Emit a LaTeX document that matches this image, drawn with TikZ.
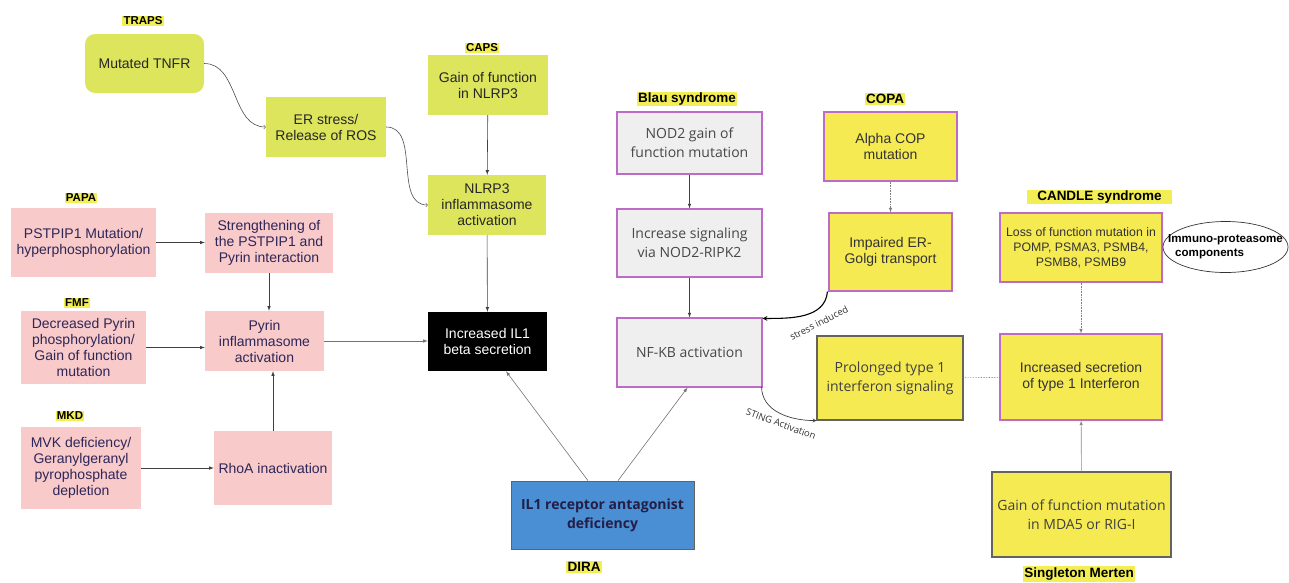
\documentclass[tikz,border=0pt]{standalone}
\usepackage{fontspec}
\setmainfont{Liberation Sans}
\newfontfamily\opensans{Open Sans}
\usetikzlibrary{shapes,arrows,positioning,calc}
\definecolor{limeyellow}{RGB}{221,229,92}
\definecolor{pinkbox}{RGB}{248,202,202}
\definecolor{greybox}{RGB}{239,239,239}
\definecolor{purpleedge}{RGB}{188,108,198}
\definecolor{brightyellow}{RGB}{246,234,82}
\definecolor{tagyellow}{RGB}{243,238,84}
\definecolor{dirablue}{RGB}{74,142,212}
\definecolor{navytext}{RGB}{45,38,88}
\definecolor{edgegrey}{RGB}{100,100,92}

\begin{document}
\begin{tikzpicture}[x=1pt, y=-1pt,
    box/.style={rectangle, align=center, inner sep=2pt, font=\fontsize{14}{16}\selectfont},
    limebox/.style={box, fill=limeyellow, text=black!85},
    pinkrect/.style={box, fill=pinkbox, text=navytext},
    greyrect/.style={box, fill=greybox, draw=purpleedge, line width=1.1pt, text=black!72,
      font=\opensans\fontsize{14}{19}\selectfont},
    yellowrect/.style={box, fill=brightyellow, draw=purpleedge, line width=1.1pt, text=black!80},
    yellowgrey/.style={box, fill=brightyellow, draw=edgegrey, line width=1.1pt, text=black!75,
      font=\opensans\fontsize{14}{19}\selectfont},
    tag/.style={fill=tagyellow, inner sep=1.2pt, font=\bfseries\fontsize{11.5}{12}\selectfont},
    bigtag/.style={tag, font=\bfseries\fontsize{13.5}{14}\selectfont},
    flow/.style={-latex, draw=black!75, line width=0.6pt},
    faint/.style={draw=black!50, line width=0.6pt, densely dotted},
    curved/.style={->, draw=black!70, line width=0.6pt},
    edgelabel/.style={font=\opensans\fontsize{9.5}{10}\selectfont, text=black!80, inner sep=0pt}]

  \useasboundingbox (0,0) rectangle (1289,582);

  % TRAPS and CAPS (NLRP3 branch)
  \node[tag] (trapstag) at (143,21) {TRAPS};
  \node[limebox, rounded corners=10pt, minimum width=119pt, minimum height=59pt] (tnfr) at (144.5,63.5) {Mutated TNFR};
  \node[limebox, minimum width=120pt, minimum height=60pt] (ros) at (326,127) {ER stress/\\Release of ROS};
  \node[tag] (capstag) at (482,48) {CAPS};
  \node[limebox, minimum width=120pt, minimum height=60pt] (nlrpgain) at (488,85) {Gain of function\\in NLRP3};
  \node[limebox, minimum width=118pt, minimum height=60pt] (nlrpact) at (487,205) {NLRP3\\inflammasome\\activation};
  \node[box, fill=black, text=white, minimum width=119pt, minimum height=59pt] (il1) at (487.5,341.5) {Increased IL1\\beta secretion};

  % PAPA, FMF, MKD (pyrin branch)
  \node[tag] (papatag) at (81,198) {PAPA};
  \node[pinkrect, minimum width=145pt, minimum height=69pt] (pstpip) at (83.5,242.5) {PSTPIP1 Mutation/\\hyperphosphorylation};
  \node[pinkrect, minimum width=128pt, minimum height=60pt] (strength) at (269,243) {Strengthening of\\the PSTPIP1 and\\Pyrin interaction};
  \node[tag] (fmftag) at (77,303) {FMF};
  \node[pinkrect, minimum width=125pt, minimum height=73pt] (pyrinphos) at (83.5,347.5) {Decreased Pyrin\\phosphorylation/\\Gain of function\\mutation};
  \node[pinkrect, minimum width=119pt, minimum height=60pt] (pyrinact) at (264.5,341) {Pyrin\\inflammasome\\activation};
  \node[tag] (mkdtag) at (70,416) {MKD};
  \node[pinkrect, minimum width=120pt, minimum height=82pt] (mvk) at (81,468) {MVK deficiency/\\Geranylgeranyl\\pyrophosphate\\depletion};
  \node[pinkrect, minimum width=118pt, minimum height=74pt] (rhoa) at (273,468) {RhoA inactivation};

  % DIRA
  \node[box, fill=dirablue, draw=edgegrey, line width=0.8pt, text=navytext!80!black,
    font=\opensans\bfseries\fontsize{14}{19}\selectfont, minimum width=183pt, minimum height=68pt] (dira) at (602.5,515)
    {IL1 receptor antagonist\\deficiency};
  \node[bigtag] (diratag) at (584,567) {DIRA};

  % Blau syndrome
  \node[bigtag] (blautag) at (687,99) {Blau syndrome};
  \node[greyrect, minimum width=145pt, minimum height=62pt] (nod2) at (689.5,143) {NOD2 gain of\\function mutation};
  \node[greyrect, minimum width=145pt, minimum height=68pt] (ripk) at (689.5,243) {Increase signaling\\via NOD2-RIPK2};
  \node[greyrect, minimum width=145pt, minimum height=69pt] (nfkb) at (689.5,352.5) {NF-KB activation};

  % COPA
  \node[bigtag] (copatag) at (885,99) {COPA};
  \node[yellowrect, minimum width=133pt, minimum height=69pt] (alphacop) at (890.5,146.5) {Alpha COP\\mutation};
  \node[yellowrect, minimum width=123pt, minimum height=78pt] (golgi) at (890.5,252) {Impaired ER-\\Golgi transport};
  \node[yellowgrey, minimum width=146pt, minimum height=84pt] (typeone) at (890,378) {Prolonged type 1\\interferon signaling};

  % CANDLE and Singleton Merten
  \node[bigtag, minimum width=145pt] (candletag) at (1099.5,197) {CANDLE syndrome};
  \node[yellowrect, font=\fontsize{12.3}{15}\selectfont, minimum width=162pt, minimum height=69pt] (proteasome) at (1081,247.5)
    {Loss of function mutation in\\POMP, PSMA3, PSMB4,\\PSMB8, PSMB9};
  \node[ellipse, draw=black!80, line width=0.7pt, align=left, inner xsep=-14pt, inner ysep=-6pt,
    minimum width=125pt, minimum height=51pt,
    font=\bfseries\fontsize{11.6}{14}\selectfont] (immuno) at (1225.5,247) {Immuno-proteasome\\\hspace*{7pt}components};
  \node[yellowrect, minimum width=162pt, minimum height=86pt] (ifn) at (1081,377) {Increased secretion\\of type 1 Interferon};
  \node[yellowgrey, minimum width=179pt, minimum height=85pt] (mda5) at (1081.5,514.5)
    {Gain of function mutation\\in MDA5 or RIG-I};
  \node[bigtag] (merttag) at (1079,574) {Singleton Merten};

  % connectors
  \draw[curved] (tnfr.east) to[out=0, in=180] (ros.west);
  \draw[curved] (ros.east) to[out=0, in=180] (nlrpact.west);
  \draw[flow] (nlrpgain) -- (nlrpact);
  \draw[flow] (nlrpact) -- (il1);
  \draw[flow] (pstpip.east) -- (pstpip.east -| strength.west);
  \draw[flow] (strength.south) -- (strength.south |- pyrinact.north);
  \draw[flow] (pyrinphos.east) -- (pyrinphos.east -| pyrinact.west);
  \draw[flow] (rhoa.north) -- (rhoa.north |- pyrinact.south);
  \draw[flow] (mvk) -- (rhoa);
  \draw[-latex, draw=black!55, line width=0.6pt] (pyrinact.east) -- (pyrinact.east -| il1.west);
  \draw[flow, draw=black!55] ([xshift=-14.5pt]dira.north) -- ([xshift=18.5pt]il1.south);
  \draw[flow, draw=black!55] ([xshift=15.5pt]dira.north) -- ([xshift=-2pt]nfkb.south);
  \draw[flow] (nod2) -- (ripk);
  \draw[flow] (ripk) -- (nfkb);
  \draw[-latex, faint] (alphacop) -- (golgi);
  \draw[-stealth, line width=1.1pt] ([xshift=-1pt]golgi.south west) to[out=-95, in=0] ([yshift=-1pt]nfkb.north east);
  \node[edgelabel, rotate=27] (stresslbl) at (819,323) {stress induced};
  \draw[-stealth, draw=black!75, line width=0.7pt] ([xshift=-1pt, yshift=1pt]nfkb.south east) to[out=-90, in=180] (typeone.south west);
  \node[edgelabel, rotate=-20] (stinglbl) at (781,424) {STING Activation};
  \draw[faint] (typeone) -- (ifn);
  \draw[-latex, faint] (proteasome) -- (ifn);
  \draw[flow, draw=black!45] (mda5) -- (ifn);
\end{tikzpicture}
\end{document}
